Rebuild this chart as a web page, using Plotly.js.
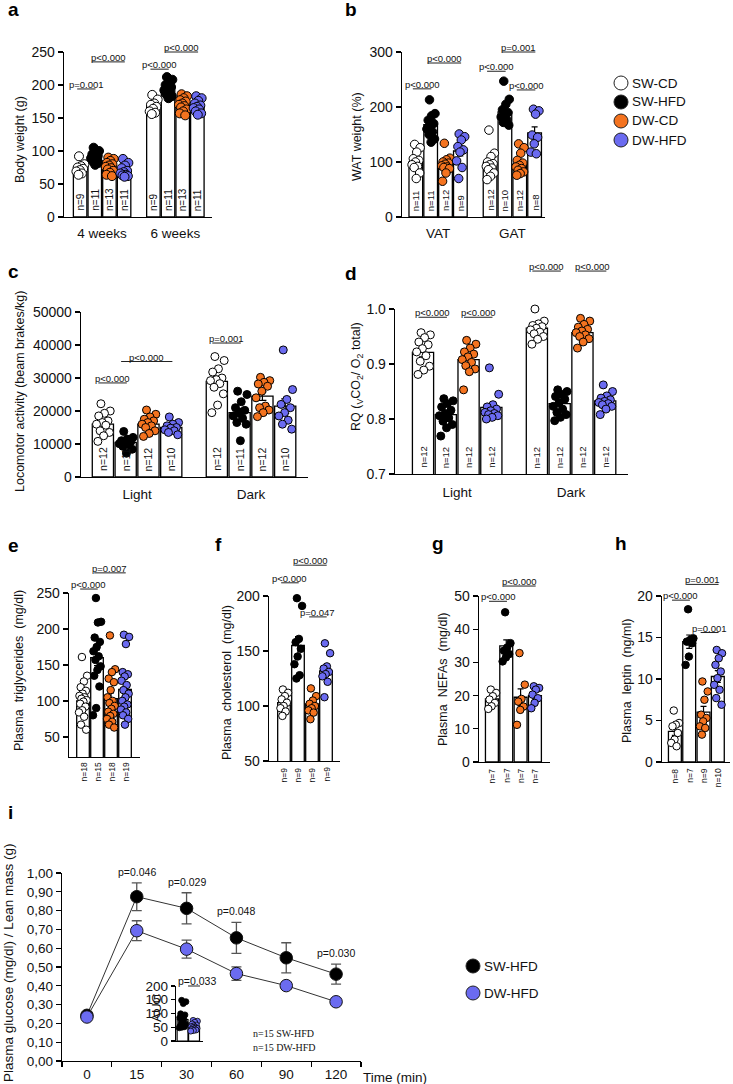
<!DOCTYPE html>
<html><head><meta charset="utf-8">
<script src="https://cdn.plot.ly/plotly-3.0.1.min.js"></script>
<style>html,body{margin:0;padding:0;background:#fff}#chart{width:733px;height:1084px}</style>
</head><body><div id="chart"></div>
<script>
// ---------------- DATA ----------------
const groups = ['SW-CD','SW-HFD','DW-CD','DW-HFD'];

// a: body weight (g)
const a_categories = ['4 weeks','6 weeks'];
const a_means = [[74, 91, 76, 70.5],[168, 195.5, 170, 168]];
const a_sem = [[2.8, 2.5, 2.6, 2.7],[3.3, 3.0, 2.8, 3.0]];
const a_n = [[9,11,13,11],[9,11,13,11]];
const a_points = [
  [[92,80,77,75,73,71,69,66,64],
   [105,100,98,95,93,91,89,86,84,82,79],
   [90,88,85,82,80,78,76,74,72,70,67,64,62],
   [88,82,78,74,70,68,66,64,63,62,61]],
  [[185,178,172,170,167,164,160,158,156],
   [212,208,204,200,197,195,192,189,186,183,180],
   [186,183,180,177,175,172,170,168,166,163,160,157,154],
   [183,180,176,172,169,167,165,163,160,157,155]]
];
const a_sig = [[0,0,1,194,'p=0.001'],[0,1,3,235,'p<0.000'],[1,0,1,224,'p<0.000'],[1,1,3,250,'p<0.000']];

// b: WAT weight (%)
const b_categories = ['VAT','GAT'];
const b_means = [[100,168,95,120],[98,191,96,153]];
const b_sem = [[6,7,5,9],[7,8,5,11]];
const b_n = [[11,11,12,9],[12,10,12,8]];
const b_points = [
  [[132,126,118,106,103,100,95,92,90,80,70],
   [213,188,184,176,170,165,160,155,150,142,136],
   [134,107,104,100,98,96,93,91,90,88,80,65],
   [151,146,140,128,122,118,102,90,70]],
  [[158,116,110,100,97,95,92,89,86,80,74,68],
   [247,214,205,195,190,186,182,177,172,167],
   [133,126,116,103,98,94,91,88,85,82,79,76],
   [196,193,187,149,145,133,118,115]]
];
const b_sig = [[0,0,1,233,'p<0.000'],[0,1,3,280,'p<0.000'],[1,0,1,265,'p<0.000'],[1,1,3,300,'p=0.001'],[1,2,3,231,'p<0.000']];

// c: locomotor activity
const c_categories = ['Light','Dark'];
const c_means = [[16000,10500,16000,15000],[29000,19500,24500,21500]];
const c_sem = [[1000,550,700,550],[1500,1300,1300,2200]];
const c_n = [[12,11,12,10],[12,11,12,10]];
const c_points = [
  [[22200,20000,19300,18500,17000,16500,16000,15700,14000,13500,12500,10800],
   [13800,12000,11500,11000,10700,10400,10100,9800,9300,8400,7200],
   [20300,19000,18200,17500,17000,16500,16000,15500,15000,14000,13200,12300],
   [18200,16500,16000,15500,15000,14800,14300,14000,13500,12800]],
  [[36500,35300,32800,31800,30000,29500,29200,28300,27200,25200,21800,19500],
   [26000,25000,22800,21000,20200,19500,18500,17800,16500,16000,11000],
   [30200,29200,28700,28200,27500,26000,24000,21500,21000,20300,19500,18300],
   [38500,26500,23500,22000,21000,19500,18500,17200,16000,14500]]
];
const c_sig = [[0,0,1,28500,'p<0.000'],[0,1,3,35000,'p<0.000'],[1,0,1,40600,'p=0,001']];

// d: RQ
const d_categories = ['Light','Dark'];
const d_means = [[0.921,0.808,0.908,0.821],[0.965,0.828,0.957,0.833]];
const d_sem = [[0.008,0.006,0.007,0.007],[0.005,0.006,0.005,0.004]];
const d_n = [[12,12,12,12],[12,12,12,12]];
const d_points = [
  [[0.957,0.953,0.948,0.940,0.935,0.928,0.922,0.915,0.905,0.896,0.889,0.881],
   [0.837,0.833,0.828,0.822,0.816,0.810,0.806,0.802,0.796,0.790,0.784,0.769],
   [0.943,0.936,0.929,0.922,0.918,0.913,0.908,0.903,0.897,0.891,0.886,0.853],
   [0.893,0.845,0.826,0.822,0.818,0.815,0.812,0.810,0.808,0.806,0.803,0.800]],
  [[1.0,0.978,0.973,0.970,0.968,0.965,0.962,0.958,0.955,0.950,0.945,0.936],
   [0.853,0.850,0.845,0.841,0.836,0.830,0.823,0.818,0.812,0.808,0.803,0.797],
   [0.983,0.978,0.972,0.967,0.963,0.960,0.957,0.953,0.950,0.946,0.940,0.929],
   [0.862,0.850,0.842,0.838,0.835,0.832,0.830,0.828,0.826,0.823,0.818,0.808]]
];
const d_sig = [[0,0,1,0.985,'p<0.000'],[0,2,3,0.985,'p<0.000'],[1,0,1,1.069,'p<0.000'],[1,2,3,1.069,'p<0.000']];

// e: plasma triglycerides
const e_means = [[100,160,103,116]];
const e_sem = [[6,11,8,9]];
const e_n = [[18,15,18,19]];
const e_points = [[
  [161,135,127,119,114,110,107,105,103,101,99,96,92,87,84,78,67,60],
  [243,210,209,188,182,175,169,162,157,148,143,135,120,90,80],
  [191,144,140,131,126,115,105,100,97,93,89,85,82,79,75,71,67,63],
  [192,189,179,140,137,134,128,122,115,110,105,100,95,92,88,84,80,75,67]
]];
const e_sig = [[0,0,1,255.5,'p<0.000'],[0,1,3,278,'p=0.007']];

// f: plasma cholesterol
const f_means = [[103,155,102,132]];
const f_sem = [[3,8,3,5]];
const f_n = [[9,9,9,9]];
const f_points = [[
  [115,112,109,106,103,100,98,95,91],
  [198,191,161,158,152,145,138,128,125],
  [116,109,105,102,100,98,96,94,88],
  [157,148,136,134,131,129,127,122,108]
]];
const f_sig = [[0,0,1,212,'p<0.000'],[0,1,3,228,'p<0.000'],[0,2,3,181,'p=0.047']];

// g: plasma NEFAs
const g_means = [[19,35,19.5,20]];
const g_sem = [[0.9,1.8,2.5,1.0]];
const g_n = [[7,7,7,7]];
const g_points = [[
  [21.8,20.8,19.8,18.8,17.8,16.8,16.0],
  [45.1,35.8,34.5,33.5,32.5,31.5,30.3],
  [32.8,23.3,19.0,18.2,16.7,15.7,11.2],
  [22.8,22.3,21.8,20.3,19.2,17.8,16.2]
]];
const g_sig = [[0,0,1,48.4,'p<0.000'],[0,1,3,53,'p<0.000']];

// h: plasma leptin
const h_means = [[3.7,14.5,6.0,10.3]];
const h_sem = [[0.5,0.8,0.7,0.7]];
const h_n = [[8,7,9,10]];
const h_points = [[
  [6.2,4.7,4.5,4.3,3.5,2.7,2.3,1.9],
  [18.4,14.9,14.7,14.5,14.3,12.7,11.7],
  [9.7,8.5,7.5,5.7,5.3,4.9,4.3,4.1,3.3],
  [13.5,13.1,12.5,11.7,10.9,10.1,9.3,8.7,7.7,6.9]
]];
const h_sig = [[0,0,1,19.5,'p<0.000'],[0,1,3,21.4,'p=0.001'],[0,2,3,15.6,'p=0.001']];

// i: glucose tolerance
const i_series = ['SW-HFD','DW-HFD'];
const i_times = ['0','15','30','60','90','120'];
const i_sw = [0.243,0.874,0.812,0.655,0.549,0.462];
const i_sw_err = [0.01,0.074,0.083,0.082,0.080,0.053];
const i_dw = [0.234,0.693,0.595,0.465,0.401,0.315];
const i_dw_err = [0.008,0.053,0.048,0.036,0.018,0.008];
const i_p = ['','p=0.046','p=0.029','p=0.048','','p=0.030'];
const i_yticks = [0,0.1,0.2,0.3,0.4,0.5,0.6,0.7,0.8,0.9,1.0];
const auc_means = [78,53];
const auc_sem = [9,3.5];
const auc_points = [
  [148,143,136,99,95,90,85,80,70,62,58,55,52,50,48],
  [75,72,68,62,58,55,52,50,48,46,44,42,40,38,36]
];
const auc_sig = [0,1,200,'p=0.033'];

// ---------------- DRAWING ----------------
const FONT = 'Liberation Sans, Arial, Helvetica, sans-serif';
const W = 733, H = 1084;
const fx = px => px / W, fy = py => 1 - py / H;
const colors = ['#ffffff','#000000','#f4731f','#6b6bf0'];
const data = [], shapes = [], annotations = [];
const layout = {width:W,height:H,margin:{l:0,r:0,t:0,b:0},paper_bgcolor:'#fff',plot_bgcolor:'rgba(0,0,0,0)',
  showlegend:false,font:{family:FONT,size:12,color:'#111'},shapes,annotations};

function axNames(n){return n===1?{x:'x',y:'y',xl:'xaxis',yl:'yaxis'}:{x:'x'+n,y:'y'+n,xl:'xaxis'+n,yl:'yaxis'+n};}

function barPanel(p){
  const A = axNames(p.ax);
  const ng = p.means.length;
  const pos=[],mean=[],sem=[];
  for(let g=0;g<ng;g++)for(let k=0;k<4;k++){pos.push(g*5+k);mean.push(p.means[g][k]);sem.push(p.sem[g][k]);}
  data.push({type:'bar',x:pos,y:mean,width:p.bw,xaxis:A.x,yaxis:A.y,
    marker:{color:'#fff',line:{color:'#000',width:1.3}},
    error_y:{type:'data',array:sem,visible:true,color:'#000',thickness:1.2,width:p.cap},hoverinfo:'skip'});
  for(let k=0;k<4;k++){
    const xs=[],ys=[];
    for(let g=0;g<ng;g++){
      p.points[g][k].forEach((val,i)=>{const f=((i*0.618034+0.37)%1)*2-1; xs.push(g*5+k+f*p.jit); ys.push(val);});
    }
    data.push({type:'scatter',mode:'markers',x:xs,y:ys,xaxis:A.x,yaxis:A.y,cliponaxis:false,
      marker:{size:p.ms,color:colors[k],line:{color:'#000',width:1}},hoverinfo:'skip'});
  }
  layout[A.xl]={domain:[fx(p.dx[0]),fx(p.dx[1])],range:p.xr,anchor:A.y,showline:true,linecolor:'#000',linewidth:1.3,
    ticks:'',showgrid:false,zeroline:false,tickmode:'array',
    tickvals:p.cats?p.cats.map((c,g)=>g*5+1.5):[],ticktext:p.cats||[],showticklabels:!!p.cats,
    tickfont:{size:13.5,color:'#111'},ticklabelstandoff:p.cstand||0};
  layout[A.yl]={domain:[fy(p.dy[0]),fy(p.dy[1])],range:p.yr,anchor:A.x,showline:true,linecolor:'#000',linewidth:1.3,
    ticks:'outside',ticklen:5,tickwidth:1.3,tickcolor:'#000',showgrid:false,zeroline:false,tickmode:'array',
    tickvals:p.yt,ticktext:p.ytt||p.yt.map(String),tickfont:{size:p.tf,color:'#111'}};
  for(let g=0;g<ng;g++)for(let k=0;k<4;k++){
    annotations.push({xref:A.x,yref:A.y+' domain',x:g*5+k,y:0,yanchor:p.nBelow?'top':'bottom',
      yshift:p.nBelow?-4:4,textangle:-90,text:'n='+p.nl[g][k],showarrow:false,font:{size:p.nf,color:'#111'}});
  }
  p.sig.forEach(s=>{
    const [g,i,j,yv,lab]=s;
    const f=(yv-p.yr[0])/(p.yr[1]-p.yr[0]);
    const x0=g*5+i-0.2, x1=g*5+j+0.05;
    shapes.push({type:'line',xref:A.x,yref:A.y+' domain',x0:x0,x1:x1,y0:f,y1:f,line:{color:'#222',width:1}});
    annotations.push({xref:A.x,yref:A.y+' domain',x:(x0+x1)/2,y:f,yanchor:'bottom',yshift:-3,text:lab,
      showarrow:false,font:{size:9.5,color:'#111'}});
  });
  annotations.push({xref:'paper',yref:'paper',x:fx(p.tx),y:fy(p.ty),xanchor:'center',yanchor:'middle',textangle:-90,
    text:p.title,showarrow:false,font:{size:p.ttf||12.5,color:'#111'}});
}

barPanel({ax:1,means:a_means,sem:a_sem,points:a_points,nl:a_n,sig:a_sig,cats:a_categories,
  dx:[64,212],dy:[217,52],xr:[-1.1,9.0],yr:[0,250],yt:[0,50,100,150,200,250],
  bw:0.92,cap:3,jit:0.3,ms:9,nf:10,tf:14,cstand:3,title:'Body weight (g)',tx:20,ty:140});
barPanel({ax:2,means:b_means,sem:b_sem,points:b_points,nl:b_n,sig:b_sig,cats:b_categories,
  dx:[402,545],dy:[217,52],xr:[-0.93,8.7],yr:[0,300],yt:[0,100,200,300],
  bw:0.92,cap:3,jit:0.3,ms:8.5,nf:9.5,tf:14,cstand:3,title:'WAT weight (%)',tx:357,ty:137});
barPanel({ax:3,means:c_means,sem:c_sem,points:c_points,nl:c_n,sig:c_sig,cats:c_categories,
  dx:[81,308],dy:[477,312],xr:[-0.96,9.0],yr:[0,50000],yt:[0,10000,20000,30000,40000,50000],
  bw:0.93,cap:4,jit:0.33,ms:8,nf:10.5,tf:14,cstand:4,title:'Locomotor activity (beam brakes/kg)',tx:20,ty:392});
barPanel({ax:4,means:d_means,sem:d_sem,points:d_points,nl:d_n,sig:d_sig,cats:d_categories,
  dx:[395,628],dy:[474,309],xr:[-1.23,9.0],yr:[0.7,1.0],yt:[0.7,0.8,0.9,1.0],ytt:['0.7','0.8','0.9','1.0'],
  bw:0.93,cap:4,jit:0.33,ms:8,nf:9.5,tf:14,cstand:5,
  title:'RQ (<sub>V</sub>CO<sub>2</sub>/ O<sub>2</sub> total)',tx:357,ty:377});
barPanel({ax:5,means:e_means,sem:e_sem,points:e_points,nl:e_n,sig:e_sig,
  dx:[69,140],dy:[757,593],xr:[-1.0,4.07],yr:[22,250],yt:[50,100,150,200,250],
  bw:0.9,cap:3,jit:0.3,ms:7.5,nf:8.5,tf:14,nBelow:true,title:'Plasma  triglycerides  (mg/dl)',tx:19,ty:671});
barPanel({ax:6,means:f_means,sem:f_sem,points:f_points,nl:f_n,sig:f_sig,
  dx:[269,340],dy:[761,596],xr:[-1.07,4.0],yr:[50,200],yt:[50,100,150,200],
  bw:0.9,cap:3,jit:0.3,ms:7.5,nf:8.5,tf:14,nBelow:true,title:'Plasma  cholesterol  (mg/dl)',tx:227,ty:683});
barPanel({ax:7,means:g_means,sem:g_sem,points:g_points,nl:g_n,sig:g_sig,
  dx:[479,550],dy:[762,596],xr:[-0.9,4.05],yr:[0,50],yt:[0,10,20,30,40,50],
  bw:0.9,cap:3,jit:0.3,ms:7.5,nf:8.5,tf:14,nBelow:true,title:'Plasma  NEFAs  (mg/dl)',tx:443,ty:680});
barPanel({ax:8,means:h_means,sem:h_sem,points:h_points,nl:h_n,sig:h_sig,
  dx:[662,730],dy:[762,596],xr:[-0.9,3.85],yr:[0,20],yt:[0,5,10,15,20],
  bw:0.9,cap:3,jit:0.3,ms:7.5,nf:8.5,tf:14,nBelow:true,title:'Plasma  leptin  (ng/ml)',tx:627,ty:681});

// ----- panel i -----
const iColors = ['#000000','#6b6bf0'];
[[i_sw,i_sw_err],[i_dw,i_dw_err]].forEach((s,k)=>{
  data.push({type:'scatter',mode:'lines+markers',x:i_times,y:s[0],xaxis:'x9',yaxis:'y9',name:i_series[k],
    error_y:{type:'data',array:s[1],visible:true,color:'#555',thickness:1.3,width:5},
    line:{color:'#333',width:1},marker:{size:12.5,color:iColors[k],line:{color:'#111',width:1}},cliponaxis:false,hoverinfo:'skip'});
});
layout.xaxis9={domain:[fx(62),fx(361)],type:'category',categoryorder:'array',categoryarray:i_times,range:[-0.5,5.5],
  anchor:'y9',showline:true,linecolor:'#000',linewidth:1.3,ticks:'outside',ticklen:5,tickwidth:1.3,tickcolor:'#000',
  tickson:'boundaries',showgrid:false,zeroline:false,tickfont:{size:13.5,color:'#111'}};
layout.yaxis9={domain:[fy(1061),fy(873)],range:[0,1.0],anchor:'x9',showline:true,linecolor:'#000',linewidth:1.3,
  ticks:'outside',ticklen:5,tickwidth:1.3,tickcolor:'#000',showgrid:false,zeroline:false,tickmode:'array',
  tickvals:i_yticks,ticktext:i_yticks.map(v=>v.toFixed(2).replace('.',',')),tickfont:{size:13.5,color:'#111'}};
i_p.forEach((t,k)=>{ if(!t) return;
  annotations.push({xref:'x9',yref:'y9',x:k,y:i_sw[k]+i_sw_err[k],yanchor:'bottom',yshift:3,text:t,showarrow:false,font:{size:10.5,color:'#111'}});
});
annotations.push({xref:'paper',yref:'paper',x:fx(361),y:fy(1077),xanchor:'left',yanchor:'middle',text:'Time (min)',showarrow:false,font:{size:13.5,color:'#111'}});
annotations.push({xref:'paper',yref:'paper',x:fx(8),y:fy(963),xanchor:'center',yanchor:'middle',textangle:-90,
  text:'Plasma glucose (mg/dl) / Lean mass (g)',showarrow:false,font:{size:13.5,color:'#111'}});

// inset AUC
data.push({type:'bar',x:[0,1],y:auc_means,width:0.95,xaxis:'x10',yaxis:'y10',marker:{color:'#fff',line:{color:'#000',width:1.2}},
  error_y:{type:'data',array:auc_sem,visible:true,color:'#000',thickness:1.1,width:2},hoverinfo:'skip'});
auc_points.forEach((v,k)=>{
  const xs=v.map((val,i)=>k+(((i*0.618034+0.37)%1)*2-1)*0.3);
  data.push({type:'scatter',mode:'markers',x:xs,y:v,xaxis:'x10',yaxis:'y10',cliponaxis:false,
    marker:{size:6,color:iColors[k],line:{color:'#000',width:0.8}},hoverinfo:'skip'});
});
layout.xaxis10={domain:[fx(176),fx(203)],range:[-0.57,1.78],anchor:'y10',showline:true,linecolor:'#000',linewidth:1.2,
  ticks:'',showticklabels:false,showgrid:false,zeroline:false};
layout.yaxis10={domain:[fy(1041),fy(986)],range:[0,200],anchor:'x10',showline:true,linecolor:'#000',linewidth:1.2,
  ticks:'outside',ticklen:4,tickwidth:1.2,tickcolor:'#000',showgrid:false,zeroline:false,tickmode:'array',
  tickvals:[0,50,100,150,200],tickfont:{size:13.5,color:'#111'}};
{
  const [i,j,yv,lab]=auc_sig; const f=yv/200;
  shapes.push({type:'line',xref:'x10',yref:'y10 domain',x0:i+0.48,x1:j+0.52,y0:f,y1:f,line:{color:'#222',width:1}});
  annotations.push({xref:'x10',yref:'y10 domain',x:j,y:f,yanchor:'bottom',yshift:-3,xshift:3,text:lab,showarrow:false,font:{size:10.5,color:'#111'}});
}
annotations.push({xref:'paper',yref:'paper',x:fx(156),y:fy(1008),textangle:-90,xanchor:'center',yanchor:'middle',text:'AUC',showarrow:false,font:{size:13.5,color:'#111'}});
annotations.push({xref:'paper',yref:'paper',x:fx(251),y:fy(1033),xanchor:'left',yanchor:'middle',text:'n=15 SW-HFD',showarrow:false,font:{family:'Liberation Serif, Times New Roman, serif',size:10,color:'#111'}});
annotations.push({xref:'paper',yref:'paper',x:fx(251),y:fy(1047),xanchor:'left',yanchor:'middle',text:'n=15 DW-HFD',showarrow:false,font:{family:'Liberation Serif, Times New Roman, serif',size:10,color:'#111'}});

// ----- legends -----
function legendEntry(cx,cy,color,label,textX){
  shapes.push({type:'circle',xref:'paper',yref:'paper',xsizemode:'pixel',ysizemode:'pixel',xanchor:fx(cx),yanchor:fy(cy),
    x0:-7,x1:7,y0:-7,y1:7,fillcolor:color,line:{color:'#222',width:1}});
  annotations.push({xref:'paper',yref:'paper',x:fx(textX),y:fy(cy),xanchor:'left',yanchor:'middle',text:label,showarrow:false,font:{size:13.5,color:'#111'}});
}
groups.forEach((g,k)=>legendEntry(621,83+k*19,colors[k],g,630));
i_series.forEach((g,k)=>legendEntry(473,966+k*27,iColors[k],g,482));

// ----- panel letters -----
[['a',6,9],['b',343,9],['c',6,272],['d',343,273],['e',6,545],['f',213,544],['g',430,543],['h',613,543],['i',6,812]]
  .forEach(([t,x,y])=>annotations.push({xref:'paper',yref:'paper',x:fx(x),y:fy(y),xanchor:'left',yanchor:'middle',
    text:'<b>'+t+'</b>',showarrow:false,font:{size:19,color:'#000'}}));

Plotly.newPlot('chart',data,layout,{staticPlot:true,displayModeBar:false});
</script>
</body></html>
